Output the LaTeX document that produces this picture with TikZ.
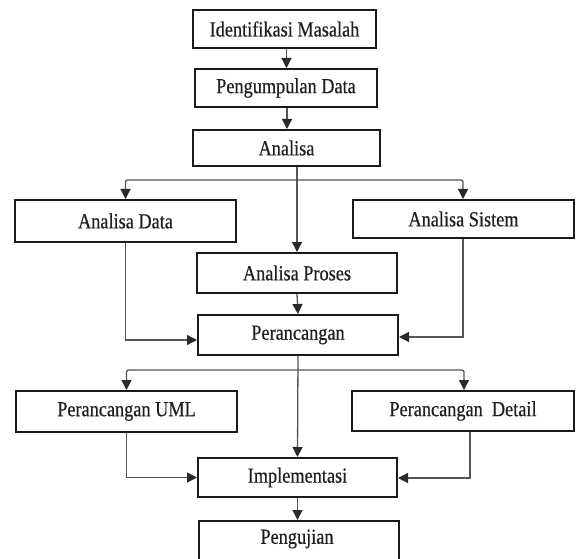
\documentclass[tikz,border=0pt]{standalone}
\usepackage{fontspec}
\setmainfont[FakeStretch=0.85,FakeBold=0.4]{Liberation Serif}
\usetikzlibrary{arrows.meta}
\definecolor{boxline}{HTML}{1A1A1A}
\definecolor{connline}{HTML}{555555}
\definecolor{tipcol}{HTML}{2A2A2A}
\tikzset{
  stepbox/.style={draw=boxline, line width=2pt, fill=white, inner sep=0pt,
    font=\fontsize{21.5}{25}\selectfont, text=black!88},
  conn/.style={draw=connline, line width=1.3pt,
    -{Triangle[length=10pt,width=10pt,color=tipcol,fill=tipcol]}},
}
\newcommand{\boxat}[6]{% name, x1, x2, y1, y2, text
  \node[stepbox, minimum width={#3-#2}, minimum height={#5-#4}] (#1) at ({(#2+#3)/2},{(#4+#5)/2}) {#6};}
\begin{document}
\begin{tikzpicture}[x=1pt,y=-1pt]
\fill[white] (0,0) rectangle (576,559);
\useasboundingbox (0,0) rectangle (576,559);
\clip (0,0) rectangle (576,559);
\boxat{idm}{193}{376}{10}{48}{Identifikasi Masalah}
\boxat{pd}{195}{377}{69}{107}{Pengumpulan Data}
\boxat{an}{193}{380}{130}{166}{Analisa}
\boxat{ad}{15}{236}{200}{242}{Analisa Data}
\boxat{as}{353}{574}{200}{238}{Analisa Sistem}
\boxat{ap}{197}{397}{253}{293}{Analisa Proses}
\boxat{pr}{198}{398}{315}{355}{Perancangan}
\boxat{uml}{16}{237}{391}{432}{Perancangan UML}
\boxat{det}{352}{574}{391}{431}{Perancangan\ \ Detail}
\boxat{im}{198}{397}{458}{497}{Implementasi}
\node[stepbox, minimum width=200, minimum height=50, anchor=north west] (pg) at (198,520) {};
\node[font=\fontsize{21.5}{25}\selectfont, text=black!88] (pgt) at (297,539) {Pengujian};
\coordinate (br1) at (297,180);
\coordinate (br2) at (297,370);
\draw[conn] ([xshift=2pt]idm.south) -- ([xshift=2pt]idm.south |- pd.north);
\draw[conn] ([xshift=1pt]pd.south) -- ([xshift=1pt]pd.south |- an.north);
\draw[conn] (ap.north |- an.south) -- (ap.north);
\draw[conn, rounded corners=2pt] (br1) -| (ad.north);
\draw[conn, rounded corners=2pt] (br1) -| ([xshift=-0.5pt]as.north);
\draw[conn] (ad.south) |- ([yshift=-5pt]pr.west);
\draw[conn] ([xshift=-0.5pt]as.south) |- ([yshift=-2pt]pr.east);
\draw[conn] (ap.south) -- (pr.north);
\draw[conn] (pr.south) -- (im.north);
\draw[conn, rounded corners=2pt] (br2) -| (uml.north);
\draw[conn, rounded corners=2pt] (br2) -| ([xshift=1pt]det.north);
\draw[conn] (uml.south) |- (im.west);
\draw[conn] ([xshift=7pt]det.south) |- ([yshift=-0.5pt]im.east);
\draw[conn] (im.south) -- (pg.north -| im.south);
\end{tikzpicture}
\end{document}
